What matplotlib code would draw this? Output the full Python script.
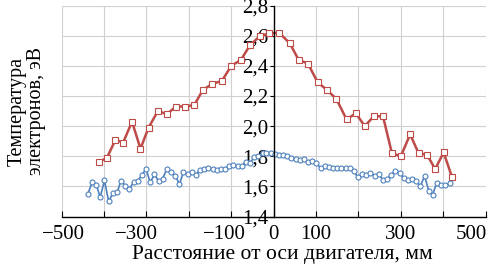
import matplotlib
matplotlib.use("Agg")
import matplotlib.pyplot as plt
import matplotlib.transforms as mtransforms
from matplotlib.ticker import FixedLocator, FuncFormatter

# ---- data ----
red_x = [-413, -393, -373, -355, -334, -314, -295, -273, -252, -230, -210, -187,
         -167, -145, -122, -100, -77, -55, -31, -10, 13, 38, 59, 81, 104, 126,
         148, 172, 194, 215, 236, 258, 279, 300, 322, 342, 362, 381, 401, 421]
red_y = [1.76, 1.79, 1.91, 1.89, 2.03, 1.85, 1.99, 2.10, 2.08, 2.13, 2.13, 2.14,
         2.24, 2.28, 2.30, 2.40, 2.44, 2.54, 2.60, 2.615, 2.62, 2.55, 2.44, 2.415,
         2.29, 2.24, 2.18, 2.045, 2.085, 2.00, 2.065, 2.065, 1.82, 1.80, 1.945,
         1.82, 1.81, 1.715, 1.825, 1.66]

blue_x = [-438, -428, -418, -409, -399, -389, -379, -369, -360, -350, -340, -330,
          -320, -311, -301, -291, -281, -271, -262, -252, -242, -232, -222, -213,
          -203, -193, -183, -173, -164, -154, -144, -134, -124, -115, -105, -95,
          -85, -75, -66, -56, -46, -36, -26, -17, -7, 3, 13, 23, 32, 42, 52, 62,
          72, 81, 91, 101, 111, 121, 130, 140, 150, 160, 170, 179, 189, 199, 209,
          219, 228, 238, 248, 258, 268, 277, 287, 297, 307, 317, 326, 336, 346,
          356, 366, 375, 385, 395, 405, 415]
blue_y = [1.55, 1.627, 1.61, 1.527, 1.64, 1.50, 1.555, 1.56, 1.638, 1.605, 1.582,
          1.631, 1.638, 1.675, 1.715, 1.627, 1.68, 1.633, 1.65, 1.715, 1.693, 1.67,
          1.615, 1.693, 1.68, 1.693, 1.678, 1.71, 1.715, 1.722, 1.715, 1.71, 1.715,
          1.715, 1.738, 1.742, 1.733, 1.738, 1.76, 1.755, 1.793, 1.80, 1.82, 1.82,
          1.82, 1.815, 1.81, 1.81, 1.805, 1.79, 1.78, 1.775, 1.78, 1.765, 1.77,
          1.755, 1.72, 1.735, 1.73, 1.725, 1.725, 1.725, 1.72, 1.72, 1.70, 1.66,
          1.685, 1.675, 1.69, 1.67, 1.685, 1.64, 1.65, 1.675, 1.705, 1.69, 1.655,
          1.645, 1.65, 1.635, 1.60, 1.67, 1.57, 1.545, 1.625, 1.61, 1.61, 1.62]

x_ticks = [-500, -400, -300, -200, -100, 0, 100, 200, 300, 400, 500]
x_labeled = [-500, -300, -100, 0, 100, 300, 500]
y_ticks = [1.4, 1.6, 1.8, 2.0, 2.2, 2.4, 2.6, 2.8]

xlabel = "Расстояние от оси двигателя, мм"
ylabel = "Температура\nэлектронов, эВ"

# ---- plot ----
plt.rcParams['font.family'] = ['Liberation Serif', 'DejaVu Serif']
fig = plt.figure(figsize=(4.93, 2.66), dpi=100)
ax = fig.add_axes([0.125, 0.186, 0.86, 0.793])

red = '#bf4b48'
blue = '#4f81bd'
ax.plot(red_x, red_y, color=red, lw=1.8, marker='s', ms=4.2, mfc='white',
        mec=red, mew=0.8, zorder=3)
ax.plot(blue_x, blue_y, color=blue, lw=1.2, marker='o', ms=3.6, mfc='white',
        mec=blue, mew=0.8, zorder=3)

ax.set_xlim(-500, 500)
ax.set_ylim(1.4, 2.8)

ax.xaxis.set_major_locator(FixedLocator(x_ticks))
ax.xaxis.set_major_formatter(FuncFormatter(
    lambda v, p: (str(int(round(v))).replace('-', '\u2212') if int(round(v)) in x_labeled else '')))
ax.yaxis.set_major_locator(FixedLocator(y_ticks))
ax.yaxis.set_major_formatter(FuncFormatter(lambda v, p: f"{v:.1f}".replace('.', ',')))

ax.spines['left'].set_position(('data', 0))
ax.spines['top'].set_visible(False)
ax.spines['right'].set_visible(False)
ax.spines['left'].set_linewidth(1.0)
ax.spines['bottom'].set_linewidth(1.0)
ax.spines['left'].set_zorder(4)

ax.tick_params(axis='x', direction='in', length=4, width=0.8, labelsize=15, pad=6)
ax.tick_params(axis='y', direction='out', length=3, width=0.8, labelsize=15, pad=1)

ax.grid(True, color='#d0d0d0', lw=0.8, zorder=0)
ax.set_axisbelow(True)

ax.set_xlabel(xlabel, fontsize=15.5, labelpad=1)
ax.xaxis.set_label_coords(0.521, -0.135)
ax.set_ylabel(ylabel, fontsize=14.5, labelpad=0, linespacing=1.0)
ax.yaxis.set_label_coords(-0.037, 0.5)

fig.canvas.draw()
shifts = {'500': -14, '\u2212500': 2, '\u2212300': -10, '\u2212100': -7}
for lab in ax.get_xticklabels():
    t = lab.get_text()
    if t in shifts:
        lab.set_transform(lab.get_transform() +
                          mtransforms.ScaledTranslation(shifts[t] / 100, 0, fig.dpi_scale_trans))

fig.savefig('out.png', dpi=100)
